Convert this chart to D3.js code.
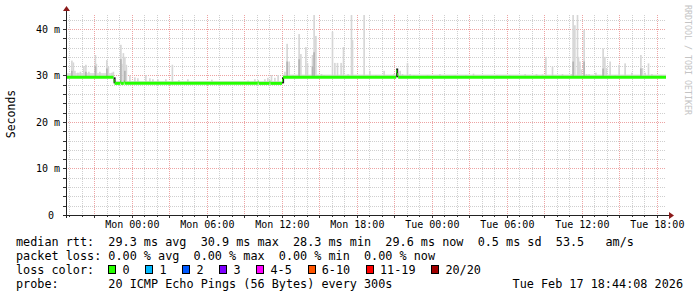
<!DOCTYPE html>
<html>
<head>
<meta charset="utf-8">
<script src="https://cdn.jsdelivr.net/npm/d3@7"></script>
<style>
  body { margin: 0; background: #fff; }
  text { font-family: "DejaVu Sans Mono", monospace; white-space: pre; fill: #000; }
</style>
</head>
<body>
<svg id="chart" width="697" height="297"></svg>
<script>
// time window: 48h ending at the stamp printed in the legend (UTC)
const endTime = new Date(Date.UTC(2026, 1, 17, 18, 44, 8));
const windowHours = 48;
const mondayMs = Date.UTC(2026, 1, 16); // hours below are relative to Mon 00:00

const yTickValues = [0, 10, 20, 30, 40];
const yTickLabels = ["0 ", "10 m", "20 m", "30 m", "40 m"];

// median rtt (ms), step changes
const medianHour = [-5.3, -1.46, -1.38, -0.92, -0.86, -0.64, -0.58, 10.08, 10.14, 11.02, 11.08, 12.02, 12.10, 21.15, 21.23, 21.31];
const medianMs   = [29.6, 28.9, 28.3, 28.6, 28.3, 28.6, 28.3, 28.6, 28.3, 28.6, 28.3, 28.9, 29.6, 30.9, 30.2, 29.6];
const medianSpread = [0.9, 0.6, 0.5, 0.5, 0.5, 0.5, 0.5, 0.5, 0.5, 0.5, 0.5, 0.6, 0.6, 0.6, 0.6, 0.6];

// smoke spikes: time, max ping (ms), darker inner level (0 = none)
const spikeHour = [-4.86, -4.74, -4.62, -4.38, -4.18, -3.90, -3.74, -3.50, -2.98, -2.90, -2.62, -2.06, -1.94, -1.66, -1.54,
  -0.94, -0.86, -0.74, -0.62, -0.50, -0.22, 0.18, 0.42, 1.06, 1.38, 1.62, 2.02, 2.66, 3.18, 3.70, 4.42, 6.34,
  9.24, 9.78, 10.58, 10.82, 11.11, 11.38, 11.64, 12.18, 12.36, 12.52, 12.84, 13.32, 13.46, 13.86, 13.99, 14.39,
  14.52, 14.66, 15.11, 15.32, 15.99, 16.18, 16.39, 16.68, 16.87, 17.24, 17.51, 17.59, 18.52, 18.98, 19.46, 20.12,
  20.92, 21.40, 21.59, 21.99, 22.20, 22.52, 23.59, 24.58, 25.80, 26.66, 27.27, 27.99, 29.14, 30.18, 31.40, 32.31,
  32.79, 33.06, 33.59, 34.39, 35.11, 35.24, 35.38, 35.59, 35.67, 35.78, 35.91, 36.12, 36.31, 36.52, 37.06, 37.64,
  37.78, 37.91, 38.20, 38.60, 38.92, 39.40, 39.94, 40.66, 40.79, 41.00, 41.27, 41.54, 42.26];
const spikeMax = [33.2, 32.8, 31.0, 30.6, 30.8, 32.0, 32.3, 30.8, 34.4, 32.5, 30.8, 33.3, 32.0, 30.6, 30.8,
  36.6, 32.5, 34.8, 34.0, 32.3, 30.0, 29.6, 29.4, 30.1, 29.4, 29.2, 29.2, 29.2, 32.3, 29.0, 29.2, 29.1,
  28.9, 29.2, 29.2, 29.5, 30.1, 29.5, 30.1, 30.8, 36.8, 33.0, 30.1, 38.9, 34.6, 36.1, 32.7, 34.4,
  43.0, 38.5, 30.3, 30.1, 39.4, 32.7, 32.7, 32.7, 36.1, 30.3, 43.0, 37.6, 43.0, 31.0, 30.1, 31.0,
  30.3, 31.0, 30.3, 32.7, 30.3, 30.1, 30.1, 30.3, 30.1, 30.1, 30.4, 30.1, 30.1, 30.1, 30.3, 30.3,
  30.2, 34.0, 31.9, 30.3, 30.3, 43.0, 40.8, 43.0, 34.0, 33.0, 31.3, 39.8, 30.3, 30.3, 30.6, 35.8,
  34.0, 31.6, 33.0, 30.1, 32.3, 32.6, 30.6, 34.4, 31.6, 30.6, 32.6, 30.3, 30.1];
const spikeInner = [31.0, 0, 0, 0, 0, 0, 30.8, 0, 32.0, 0, 0, 31.5, 0, 0, 0,
  33.5, 0, 0, 31.0, 0, 0, 0, 0, 0, 0, 0, 0, 0, 0, 0, 0, 0,
  0, 0, 0, 0, 0, 0, 0, 0, 33.0, 0, 0, 33.5, 0, 0, 0, 32.0,
  35.0, 0, 0, 0, 0, 0, 0, 0, 0, 0, 0, 0, 0, 0, 0, 0,
  0, 0, 0, 0, 0, 0, 0, 0, 0, 0, 0, 0, 0, 0, 0, 0,
  0, 0, 0, 0, 0, 33.0, 0, 0, 0, 0, 0, 33.0, 0, 0, 0, 31.5,
  0, 0, 0, 0, 0, 0, 0, 31.5, 0, 0, 0, 0, 0];

// dense smoke where the median jumps
const darkHour = [-1.46, 12.02, 21.15];
const darkLo = [28.3, 28.3, 29.6];
const darkHi = [29.6, 29.6, 31.5];

const lossLabels = ["0", "1", "2", "3", "4-5", "6-10", "11-19", "20/20"];
const lossColors = ["#26ff00", "#00b8ff", "#0059ff", "#7e00ff", "#ff00ff", "#ff5500", "#ff0000", "#a10000"];

const statsLine = "median rtt:  29.3 ms avg  30.9 ms max  28.3 ms min  29.6 ms now  0.5 ms sd  53.5   am/s";
const lossLine = "packet loss: 0.00 % avg  0.00 % max  0.00 % min  0.00 % now";
const probeLine = "probe:       20 ICMP Echo Pings (56 Bytes) every 300s";
const stampText = "Tue Feb 17 18:44:08 2026";

const svg = d3.select("#chart");
const hourToDate = (h) => new Date(mondayMs + h * 3600e3);
const startTime = new Date(endTime - windowHours * 3600e3);

const plotL = 66, plotR = 666, plotT = 15, plotB = 215;
const xScale = d3.scaleUtc().domain([startTime, endTime]).range([plotL, plotR]);
const yScale = d3.scaleLinear().domain([0, 43]).range([plotB, plotT]);

// grid
const grid = svg.append("g");
const minorY = d3.range(0, 43, 2).filter((v) => v % 10 !== 0);
grid.selectAll(".gy").data(minorY).join("line")
  .attr("x1", plotL).attr("x2", plotR)
  .attr("y1", (d) => Math.round(yScale(d)) + 0.5).attr("y2", (d) => Math.round(yScale(d)) + 0.5)
  .attr("stroke", "#cfcfcf").attr("stroke-dasharray", "1,1");
const hours = d3.utcHour.every(1).range(startTime, endTime);
grid.selectAll(".gx").data(hours.filter((d) => d.getUTCHours() % 3 !== 0)).join("line")
  .attr("x1", (d) => Math.round(xScale(d)) + 0.5).attr("x2", (d) => Math.round(xScale(d)) + 0.5)
  .attr("y1", plotT).attr("y2", plotB)
  .attr("stroke", "#cfcfcf").attr("stroke-dasharray", "1,1");
grid.selectAll(".mx").data(hours.filter((d) => d.getUTCHours() % 3 === 0)).join("line")
  .attr("x1", (d) => Math.round(xScale(d)) + 0.5).attr("x2", (d) => Math.round(xScale(d)) + 0.5)
  .attr("y1", plotT).attr("y2", plotB)
  .attr("stroke", "#eda3a3").attr("stroke-dasharray", "1,1");
grid.selectAll(".my").data(yTickValues.slice(1)).join("line")
  .attr("x1", plotL).attr("x2", plotR)
  .attr("y1", (d) => Math.round(yScale(d)) + 0.5).attr("y2", (d) => Math.round(yScale(d)) + 0.5)
  .attr("stroke", "#eda3a3").attr("stroke-dasharray", "1,1");

// median lookup
const medianAt = (h) => medianMs[Math.max(0, d3.bisectRight(medianHour, h) - 1)];
const endHour = (endTime - mondayMs) / 3600e3;
const runs = medianHour.map((h, i) => ({
  h0: Math.max(h, (startTime - mondayMs) / 3600e3),
  h1: i + 1 < medianHour.length ? medianHour[i + 1] : endHour,
  v: medianMs[i], s: medianSpread[i]
}));

// smoke: base spread band
const smoke = svg.append("g");
smoke.selectAll(".band").data(runs).join("rect")
  .attr("x", (d) => xScale(hourToDate(d.h0)))
  .attr("width", (d) => xScale(hourToDate(d.h1)) - xScale(hourToDate(d.h0)))
  .attr("y", (d) => yScale(d.v + d.s))
  .attr("height", (d) => yScale(d.v) - yScale(d.v + d.s))
  .attr("fill", "#dedede");

const stepW = xScale(hourToDate(5 / 60)) - xScale(hourToDate(0)) + 0.6;
const spikes = spikeHour.map((h, i) => ({ h, max: spikeMax[i], inner: spikeInner[i], med: medianAt(h) }));
smoke.selectAll(".spike").data(spikes).join("rect")
  .attr("x", (d) => xScale(hourToDate(d.h)))
  .attr("width", stepW)
  .attr("y", (d) => yScale(d.max))
  .attr("height", (d) => yScale(d.med) - yScale(d.max))
  .attr("fill", "#d6d6d6");
smoke.selectAll(".inner").data(spikes.filter((d) => d.inner > 0)).join("rect")
  .attr("x", (d) => xScale(hourToDate(d.h)))
  .attr("width", stepW)
  .attr("y", (d) => yScale(d.inner))
  .attr("height", (d) => yScale(d.med) - yScale(d.inner))
  .attr("fill", "#b4b4b4");
smoke.selectAll(".dark").data(darkHour.map((h, i) => ({ h, lo: darkLo[i], hi: darkHi[i] }))).join("rect")
  .attr("x", (d) => xScale(hourToDate(d.h)))
  .attr("width", stepW + 0.4)
  .attr("y", (d) => yScale(d.hi))
  .attr("height", (d) => yScale(d.lo) - yScale(d.hi))
  .attr("fill", "#1a1a1a");

// median line, drawn as flat pieces
svg.append("g").selectAll("line").data(runs).join("line")
  .attr("x1", (d) => xScale(hourToDate(d.h0)))
  .attr("x2", (d) => xScale(hourToDate(d.h1)))
  .attr("y1", (d) => yScale(d.v)).attr("y2", (d) => yScale(d.v))
  .attr("stroke", lossColors[0]).attr("stroke-width", 3);

// axes
const xAxis = d3.axisBottom(xScale)
  .tickValues(hours.filter((d) => d.getUTCHours() % 6 === 0))
  .tickFormat(d3.utcFormat("%a %H:%M")).tickSize(0).tickPadding(6);
const gx = svg.append("g").attr("transform", `translate(0,${plotB})`).call(xAxis);
gx.select(".domain").remove();
gx.selectAll("text").attr("font-size", 10).attr("font-family", "DejaVu Sans Mono");

const yAxis = d3.axisLeft(yScale).tickValues(yTickValues)
  .tickFormat((d, i) => yTickLabels[i]).tickSize(0).tickPadding(6);
const gy = svg.append("g").attr("transform", `translate(${plotL},0)`).call(yAxis);
gy.select(".domain").remove();
gy.selectAll("text").attr("font-size", 10).attr("font-family", "DejaVu Sans Mono");

// small ticks on the axes
svg.append("g").selectAll("line").data(d3.range(0, 43, 2)).join("line")
  .attr("x1", plotL - 3).attr("x2", plotL)
  .attr("y1", (d) => Math.round(yScale(d)) + 0.5).attr("y2", (d) => Math.round(yScale(d)) + 0.5)
  .attr("stroke", "#333");
svg.append("g").selectAll("line").data(hours).join("line")
  .attr("x1", (d) => Math.round(xScale(d)) + 0.5).attr("x2", (d) => Math.round(xScale(d)) + 0.5)
  .attr("y1", plotB).attr("y2", (d) => plotB + (d.getUTCHours() % 3 === 0 ? 3 : 2))
  .attr("stroke", "#333");

svg.append("line").attr("x1", plotL - 3).attr("x2", plotR + 4)
  .attr("y1", plotB + 0.5).attr("y2", plotB + 0.5).attr("stroke", "#222");
svg.append("line").attr("x1", plotL + 0.5).attr("x2", plotL + 0.5)
  .attr("y1", plotB + 3).attr("y2", plotT - 5).attr("stroke", "#222");
svg.append("path").attr("d", `M${plotR + 3},${plotB - 3}L${plotR + 8},${plotB + 0.5}L${plotR + 3},${plotB + 4}Z`)
  .attr("fill", "#8b1a1a");
svg.append("path").attr("d", `M${plotL - 3},${plotT - 4}L${plotL + 0.5},${plotT - 9}L${plotL + 4},${plotT - 4}Z`)
  .attr("fill", "#8b1a1a");

// axis title and watermark
svg.append("text").attr("transform", "translate(15,114) rotate(-90)")
  .attr("text-anchor", "middle").attr("font-size", 11.5).text("Seconds");
svg.append("text").attr("transform", "translate(685,5) rotate(90)")
  .attr("font-size", 8.3).style("fill", "#c4c4c4").text("RRDTOOL / TOBI OETIKER");

// legend
const charW = 7.1, legX = 16, fs = 11.8;
const rows = [[statsLine, 245.5], [lossLine, 259.5], ["loss color:", 273.5], [probeLine, 287.5]];
svg.append("g").selectAll("text").data(rows).join("text")
  .attr("x", legX).attr("y", (d) => d[1]).attr("font-size", fs).text((d) => d[0]);

let col = 13;
const boxes = lossLabels.map((lab, i) => {
  const bx = legX + col * charW + i * 1.5;
  col += lab.length + 4;
  return { lab, color: lossColors[i], bx };
});
const lg = svg.append("g");
lg.selectAll("rect").data(boxes).join("rect")
  .attr("x", (d) => Math.round(d.bx) + 0.5).attr("y", 265.5).attr("width", 7).attr("height", 8)
  .attr("fill", (d) => d.color).attr("stroke", "#000");
lg.selectAll("text").data(boxes).join("text")
  .attr("x", (d) => d.bx + 2 * charW).attr("y", 273.5).attr("font-size", fs).text((d) => d.lab);

svg.append("text").attr("x", 683).attr("y", 287.5).attr("text-anchor", "end")
  .attr("font-size", fs).text(stampText);
</script>
</body>
</html>
